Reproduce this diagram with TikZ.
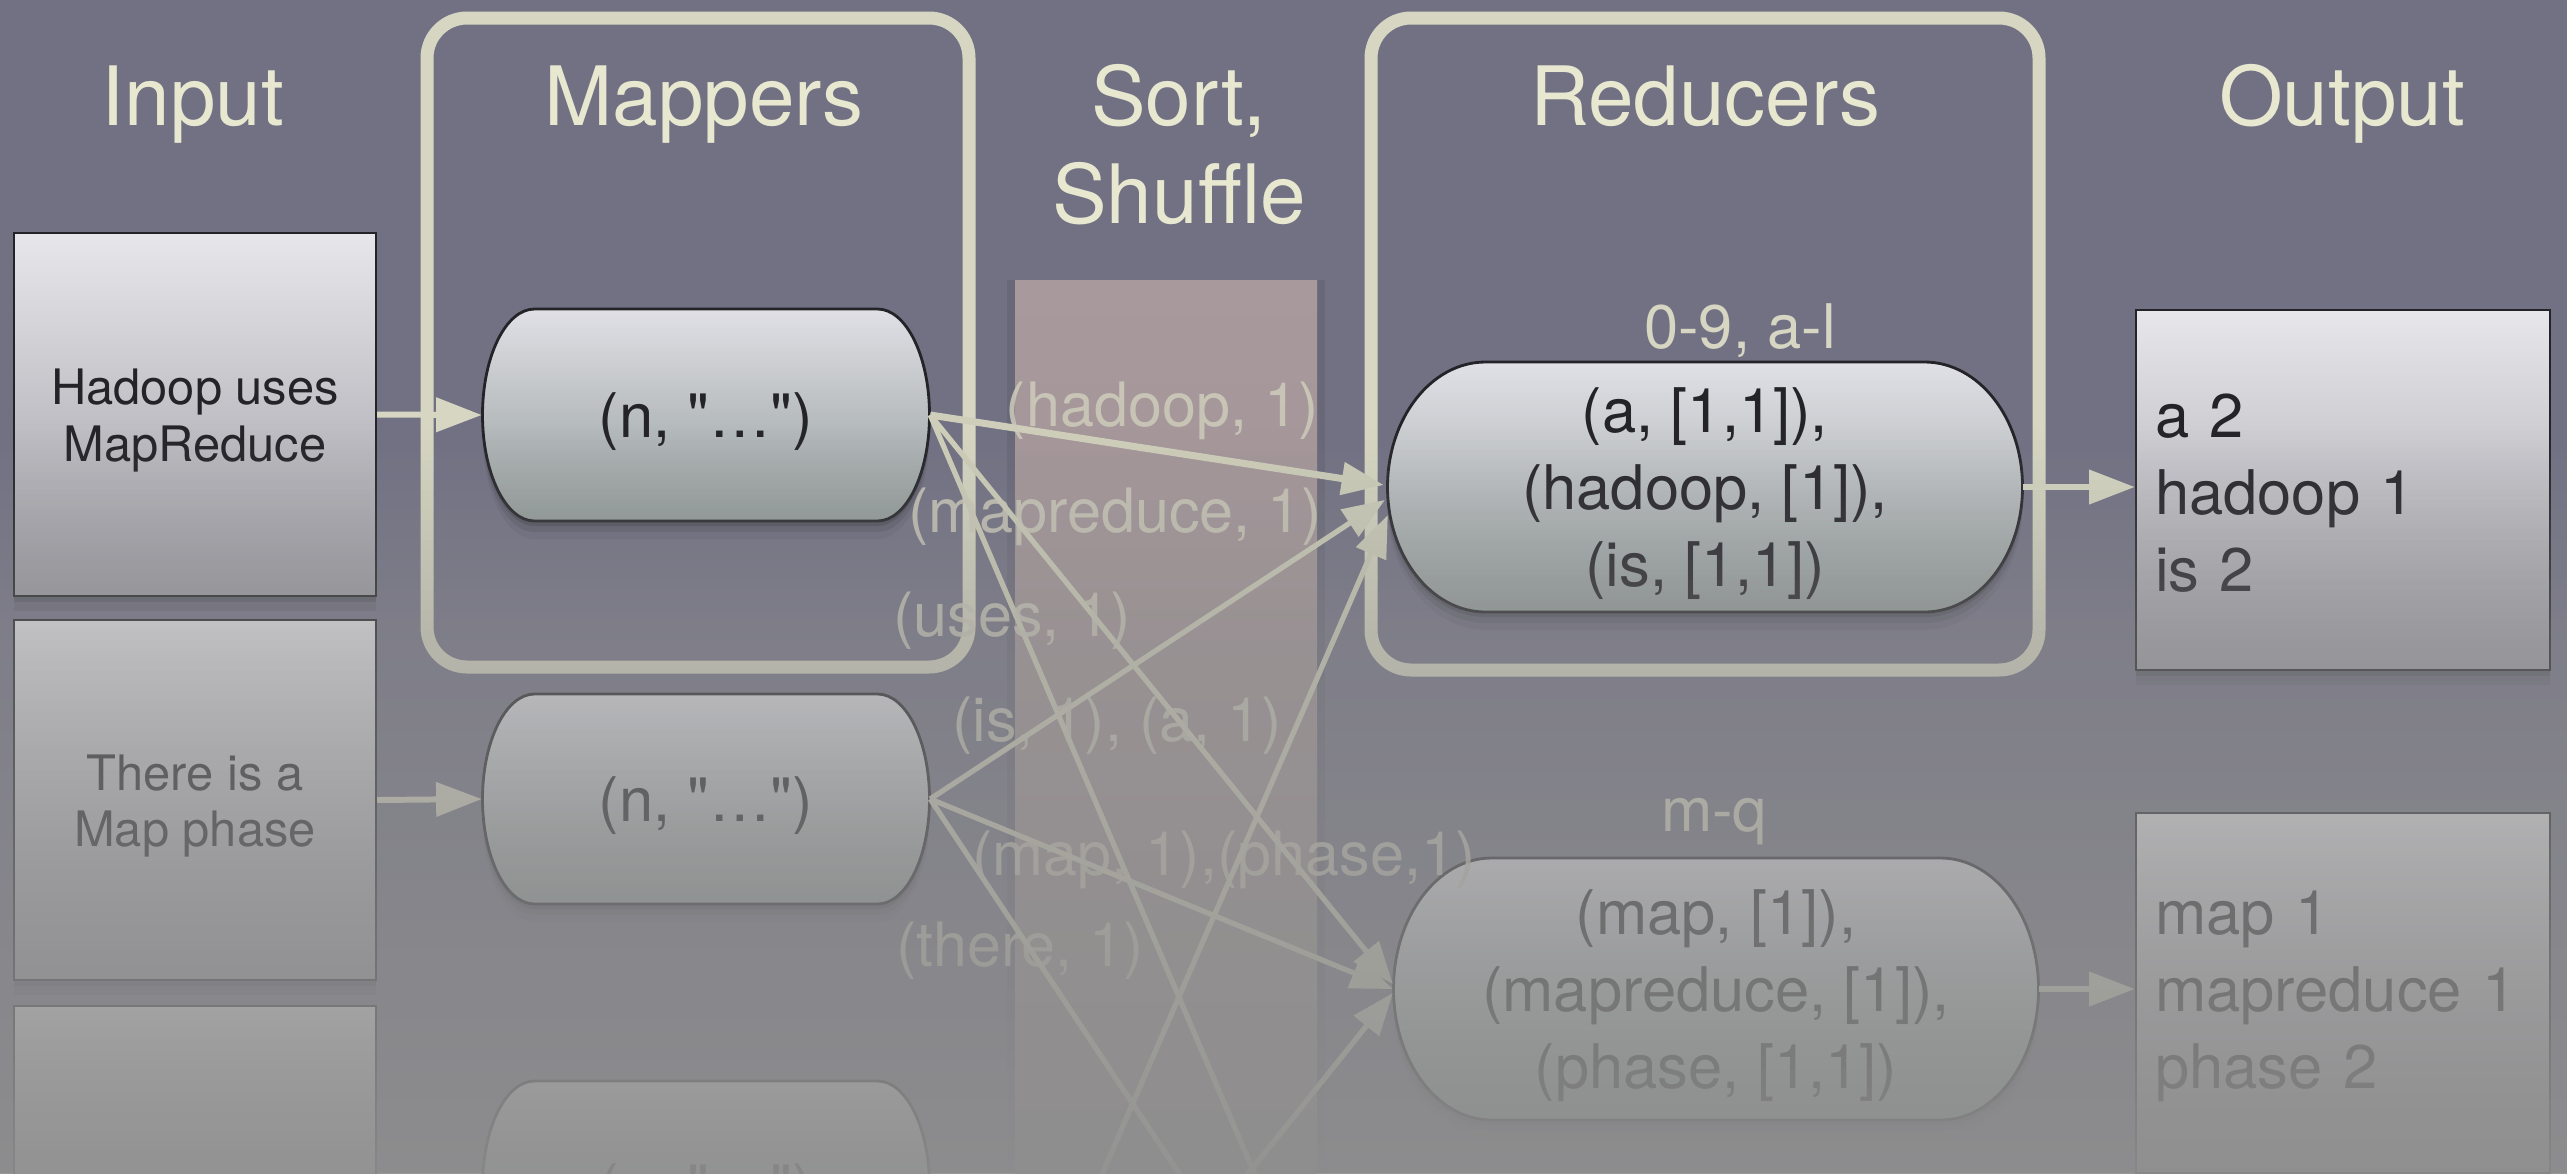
\documentclass[tikz,border=0pt]{standalone}
\usepackage{fontspec}
\setmainfont{TeX Gyre Heros}[Ligatures=TeXOff]
\usetikzlibrary{arrows.meta,shadows,calc}

\definecolor{bgc}{RGB}{114,113,132}
\definecolor{beige}{RGB}{214,214,194}
\definecolor{lineb}{RGB}{206,206,186}
\definecolor{headc}{RGB}{232,232,208}
\definecolor{labelc}{RGB}{206,204,188}
\definecolor{fadegray}{RGB}{143,143,143}
\definecolor{boxtop}{RGB}{231,231,235}
\definecolor{boxbot}{RGB}{155,154,162}
\definecolor{captop}{RGB}{224,224,230}
\definecolor{capbot}{RGB}{146,155,153}
\definecolor{colTop}{RGB}{168,153,156}
\definecolor{colBot}{RGB}{150,140,143}
\definecolor{ink}{RGB}{35,35,40}

% capsule: #1 name, #2 cx, #3 cy (px, down), #4 width, #5 height, #6 side radius, #7 text
\newcommand\capsule[7]{%
  \pgfmathsetmacro\cpsL{#2-#4/2+#6}%
  \pgfmathsetmacro\cpsR{#2+#4/2-#6}%
  \pgfmathsetmacro\cpsT{-#3+#5/2}%
  \pgfmathsetmacro\cpsB{-#3-#5/2}%
  \pgfmathsetmacro\cpsY{#5/2}%
  \foreach \sy/\op in {5/0.14,11/0.10,18/0.06}{%
    \fill[black, opacity=\op, shift={(0,-\sy)}] (\cpsR,\cpsT)
      arc[start angle=90,end angle=-90,x radius=#6,y radius=\cpsY]
      -- (\cpsL,\cpsB)
      arc[start angle=270,end angle=90,x radius=#6,y radius=\cpsY] -- cycle;
  }%
  \path[capbody] (\cpsR,\cpsT)
    arc[start angle=90,end angle=-90,x radius=#6,y radius=\cpsY]
    -- (\cpsL,\cpsB)
    arc[start angle=270,end angle=90,x radius=#6,y radius=\cpsY] -- cycle;
  \node[inner sep=0, minimum width={#4*0.1mm}, minimum height={#5*0.1mm},
        label={[captext]center:#7}] (#1) at (#2,-#3) {};
}

\begin{document}
\begin{tikzpicture}[x=0.1mm,y=0.1mm,
  hdr/.style={text=headc, font=\fontsize{23.3}{27.9}\selectfont, inner sep=0},
  boxshadow/.style={general shadow={fill=black, opacity=.14, shadow yshift=-0.6mm},
                    general shadow={fill=black, opacity=.09, shadow yshift=-1.5mm}},
  inbox/.style={draw=ink, line width=0.7pt, top color=boxtop, bottom color=boxbot,
    minimum width=36.2mm, minimum height=36mm, inner sep=0, boxshadow},
  intext/.style={inner sep=0, text=ink, align=center, yshift=-0.6mm,
    font=\fontsize{13.9}{16.2}\selectfont},
  outbox/.style={draw=ink, line width=0.7pt, top color=boxtop, bottom color=boxbot,
    minimum width=41.4mm, minimum height=36mm, inner sep=0, boxshadow},
  outtext/.style={inner sep=0, text width=37.6mm, align=left, text=ink, yshift=-0.35mm,
    font=\fontsize{17.5}{21.9}\selectfont},
  grp/.style={draw=beige, line width=3.7pt, rounded corners=4mm, inner sep=0},
  sortcol/.style={minimum width=30.2mm, minimum height=89.3mm, inner sep=0,
    top color=colTop, bottom color=colBot,
    general shadow={fill=black, opacity=.08, shadow xshift=0.8mm},
    general shadow={fill=black, opacity=.08, shadow xshift=-0.8mm}},
  captext/.style={inner sep=0, text=ink, align=center, yshift=-0.7mm,
    font=\fontsize{17.5}{21.9}\selectfont},
  capbody/.style={draw=ink, line width=0.8pt, top color=captop, bottom color=capbot},
  arr/.style={draw=beige, line width=1.7pt, -{Triangle[length=13pt,width=9.5pt]}},
  sarr/.style={draw=lineb, line width=1.5pt, -{Triangle[length=12pt,width=9pt]}},
  lbl/.style={text=labelc, text opacity=0.85, inner sep=0, font=\fontsize{17.4}{21}\selectfont},
  keylbl/.style={text=beige, inner sep=0, font=\fontsize{17.5}{21}\selectfont}
]
\path[use as bounding box] (0,0) rectangle (2567,-1173);
\clip (0,0) rectangle (2567,-1173);
\fill[bgc] (0,0) rectangle (2567,-1173);

% sort / shuffle column
\node[sortcol] (shuffle) at (1166,-726.5) {};

% group frames
\node[grp, minimum width=54.2mm, minimum height=64.9mm] (mapgrp) at (698,-342.5) {};
\node[grp, minimum width=66.8mm, minimum height=65.2mm] (redgrp) at (1705,-344) {};

% headers
\node[hdr, anchor=base] (hinput) at (193,-125) {Input};
\node[hdr, anchor=base] (hmap) at (704,-125) {Mappers};
\node[hdr, align=center] (hsort) at (1179,-144.5) {Sort,\\Shuffle};
\node[hdr, anchor=base] (hred) at (1705,-125) {Reducers};
\node[hdr, anchor=base] (hout) at (2342,-125) {Output};

% inputs
\node[inbox, minimum height=36.3mm, label={[intext]center:Hadoop uses\\MapReduce}] (in1) at (195,-414.5) {};
\node[inbox, label={[intext]center:There is a\\Map phase}] (in2) at (195,-800) {};
\node[inbox] (in3) at (195,-1186) {};

% mappers
\capsule{m1}{706}{415}{447}{212}{52}{(n, "…")}
\capsule{m2}{706}{799}{447}{210}{52}{(n, "…")}
\capsule{m3}{706}{1186}{447}{210}{52}{(n, "…")}

% reducers
\node[keylbl] (key1) at (1740,-331) {0-9, a-l};
\capsule{r1}{1705}{487}{635}{250}{98}{(a, [1,1]),\\(hadoop, [1]),\\(is, [1,1])}
\node[keylbl] (key2) at (1714,-822) {m-q};
\capsule{r2}{1716}{989}{645}{262}{98}{(map, [1]),\\(mapreduce, [1]),\\(phase, [1,1])}

% outputs
\node[outbox, label={[outtext]center:a 2\\hadoop 1\\is 2}] (o1) at (2343,-490) {};
\node[outbox, label={[outtext]center:map 1\\mapreduce 1\\phase 2}] (o2) at (2343,-993) {};

% off-canvas ends
\coordinate (m4e) at (930,-1571);
\coordinate (r3w) at (1390,-1491);

% connectors
\draw[arr] (in1.east) -- (m1.west);
\draw[arr] (in2.east) -- (m2.west);
\draw[arr] (r1.east) -- (r1.east -| o1.west);
\draw[arr] (r2.east) -- (r2.east -| o2.west);

\draw[sarr, line width=2pt] (m1.east) -- ($(r1.west)+(-3,2)$);
\draw[sarr] (m1.east) -- ($(r2.west)+(0,5)$);
\draw[sarr] (m1.east) -- (r3w);
\draw[sarr] (m2.east) -- ($(r1.west)+(-2,-13)$);
\draw[sarr] (m2.east) -- (r2.west);
\draw[sarr] (m2.east) -- (r3w);
\draw[sarr] (m4e) -- ($(r1.west)+(1,-28)$);
\draw[sarr] (m4e) -- ($(r2.west)+(0,-4)$);

% shuffle labels
\node[lbl] (lhadoop) at (1162,-411) {(hadoop, 1)};
\node[lbl] (lmapreduce) at (1115,-517) {(mapreduce, 1)};
\node[lbl] (luses) at (1012,-621) {(uses, 1)};
\node[lbl] (lisa) at (1117,-726) {(is, 1), (a, 1)};
\node[lbl] (lmapphase) at (1224,-860) {(map, 1),(phase,1)};
\node[lbl] (lthere) at (1020,-951) {(there, 1)};

% slide fade towards the bottom (stepwise translucent overlay)
\foreach \i in {0,...,74}{
  \pgfmathsetmacro\yy{430+10*\i+5}
  \pgfmathsetmacro\aa{\yy<640 ? 0.45*(\yy-430)/210 : 0.45+0.48*(\yy-640)/533}
  \fill[fadegray, opacity=\aa] (0,{-430-10*\i}) rectangle (2567,{-440-10*\i});
}
\end{tikzpicture}
\end{document}
